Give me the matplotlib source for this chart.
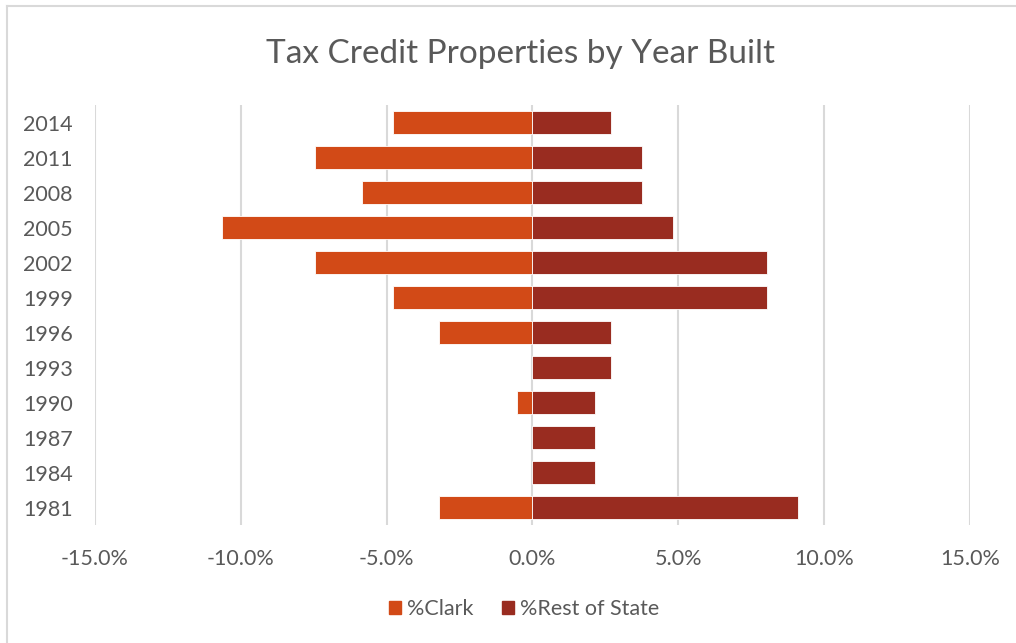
import numpy as np
import matplotlib.pyplot as plt
from matplotlib.lines import Line2D
from matplotlib.ticker import FuncFormatter

plt.rcParams['font.family'] = ['Lato', 'DejaVu Sans']

years = ['1981', '1984', '1987', '1990', '1993', '1996',
         '1999', '2002', '2005', '2008', '2011', '2014']
pct_clark = [-3.19, 0.0, 0.0, -0.53, 0.0, -3.19,
             -4.79, -7.45, -10.64, -5.85, -7.45, -4.79]
pct_rest = [9.11, 2.14, 2.14, 2.14, 2.68, 2.68,
            8.04, 8.04, 4.82, 3.75, 3.75, 2.68]

clark_color = '#D24A17'
rest_color = '#992C20'
text_color = '#595959'
grid_color = '#D9D9D9'

fig = plt.figure(figsize=(10.16, 6.43), dpi=100)
ax = fig.add_axes([0.0935, 0.1835, 0.8612, 0.6532])

y = np.arange(len(years))
ax.barh(y, pct_clark, height=0.667, color=clark_color, edgecolor='white',
        linewidth=0.6, label='%Clark', zorder=3)
ax.barh(y, pct_rest, height=0.667, color=rest_color, edgecolor='white',
        linewidth=0.6, label='%Rest of State', zorder=3)

ax.set_xlim(-15, 15)
ax.set_ylim(-0.5, len(years) - 0.5)
ax.set_xticks(np.arange(-15, 15.1, 5))
ax.xaxis.set_major_formatter(FuncFormatter(lambda v, p: f'{v:.1f}%'))
ax.set_yticks(y)
ax.set_yticklabels(years)
ax.grid(axis='x', color=grid_color, linewidth=1.5, zorder=0)
ax.tick_params(length=0, colors=text_color, labelsize=15.5)
ax.tick_params(axis='x', pad=17)
ax.tick_params(axis='y', pad=16)
for s in ax.spines.values():
    s.set_visible(False)

fig.text(0.512, 0.916, 'Tax Credit Properties by Year Built',
         ha='center', va='center', fontsize=24, color=text_color)

handles = [plt.Rectangle((0, 0), 1, 1, color=clark_color),
           plt.Rectangle((0, 0), 1, 1, color=rest_color)]
fig.legend(handles, ['%Clark', '%Rest of State'], loc='center',
           bbox_to_anchor=(0.516, 0.053), ncol=2, frameon=False,
           fontsize=15.5, labelcolor=text_color, handlelength=0.55,
           handleheight=0.55, handletextpad=0.3, columnspacing=1.3)

# light frame around the chart area
fig.add_artist(Line2D([0.0065, 0.0065], [0, 0.9907], color=grid_color,
                      linewidth=1.5, transform=fig.transFigure))
fig.add_artist(Line2D([0.0065, 1], [0.9907, 0.9907], color=grid_color,
                      linewidth=1.5, transform=fig.transFigure))

fig.savefig('out.png', dpi=100)
